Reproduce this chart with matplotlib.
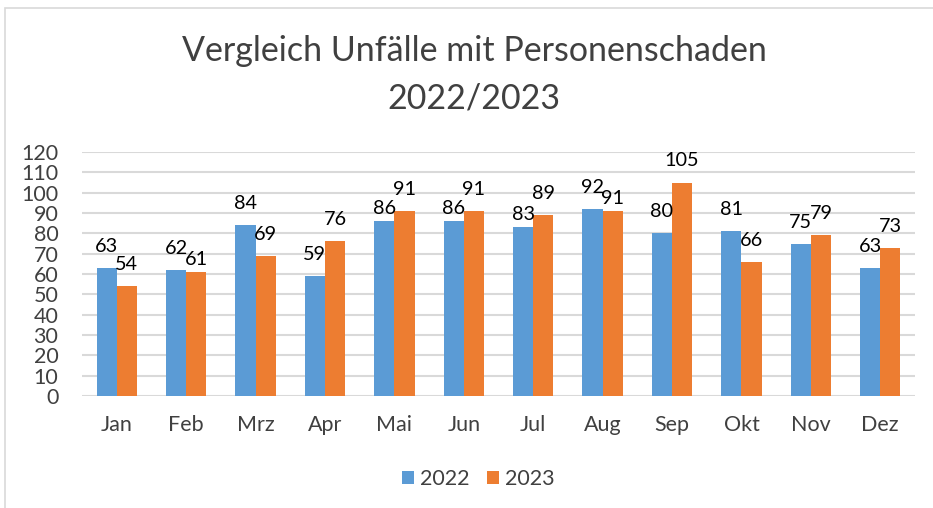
import numpy as np
import matplotlib.pyplot as plt
from matplotlib.patches import Rectangle

plt.rcParams['font.family'] = ['Lato', 'DejaVu Sans']

months = ['Jan', 'Feb', 'Mrz', 'Apr', 'Mai', 'Jun', 'Jul', 'Aug', 'Sep', 'Okt', 'Nov', 'Dez']
values_2022 = [63, 62, 84, 59, 86, 86, 83, 92, 80, 81, 75, 63]
values_2023 = [54, 61, 69, 76, 91, 91, 89, 91, 105, 66, 79, 73]
y_ticks = list(range(0, 121, 10))

blue = '#5B9BD5'
orange = '#ED7D31'
grid_color = '#D9D9D9'
text_color = '#404040'

fig = plt.figure(figsize=(9.33, 5.08), dpi=100, facecolor='white')

# light frame around the chart area (Excel style)
fig.patches.append(Rectangle((5 / 933, -0.1), 1.2, 500 / 508 + 0.1,
                             transform=fig.transFigure, fill=False,
                             edgecolor=grid_color, linewidth=1.2))

ax = fig.add_axes([82 / 933, (508 - 396) / 508, (915 - 82) / 933, (396 - 152) / 508])

x = np.arange(len(months))
w = 0.29
bars1 = ax.bar(x - w / 2, values_2022, w, color=blue, label='2022', zorder=3)
bars2 = ax.bar(x + w / 2, values_2023, w, color=orange, label='2023', zorder=3)

# (series, month) of labels that sit closer to their bar, as Excel placed them
close_labels = {(1, 1), (0, 4), (0, 5), (0, 6), (1, 7)}

for k, bars in enumerate((bars1, bars2)):
    for i, b in enumerate(bars):
        off = 4 if (k, i) in close_labels else 13
        ax.annotate(f'{b.get_height():.0f}',
                    (b.get_x() + b.get_width() / 2, b.get_height()),
                    xytext=(0, off), textcoords='offset pixels',
                    ha='center', va='bottom', fontsize=14.3, color='black', zorder=4)

ax.set_xlim(-0.5, len(months) - 0.5)
ax.set_ylim(0, 120)
ax.set_yticks(y_ticks)
ax.set_xticks(x)
ax.set_xticklabels(months)
ax.tick_params(axis='both', length=0, labelsize=15.5, labelcolor=text_color)
ax.tick_params(axis='x', pad=14)
ax.tick_params(axis='y', pad=17)
ax.yaxis.grid(True, color=grid_color, linewidth=1.5, zorder=0)
for s in ax.spines.values():
    s.set_visible(False)

fig.text(474 / 933, 1 - 51 / 508, 'Vergleich Unfälle mit Personenschaden',
         ha='center', va='center', fontsize=24.5, color=text_color)
fig.text(474 / 933, 1 - 99 / 508, '2022/2023',
         ha='center', va='center', fontsize=24.5, color=text_color)

leg = fig.legend(handles=[bars1, bars2], labels=['2022', '2023'],
                 loc='center', bbox_to_anchor=(478 / 933, 1 - 479 / 508),
                 ncol=2, frameon=False, fontsize=15.5, handlelength=0.56,
                 handleheight=0.56, handletextpad=0.28, columnspacing=0.8)
for t in leg.get_texts():
    t.set_color(text_color)

fig.savefig('out.png', dpi=100, facecolor='white')
